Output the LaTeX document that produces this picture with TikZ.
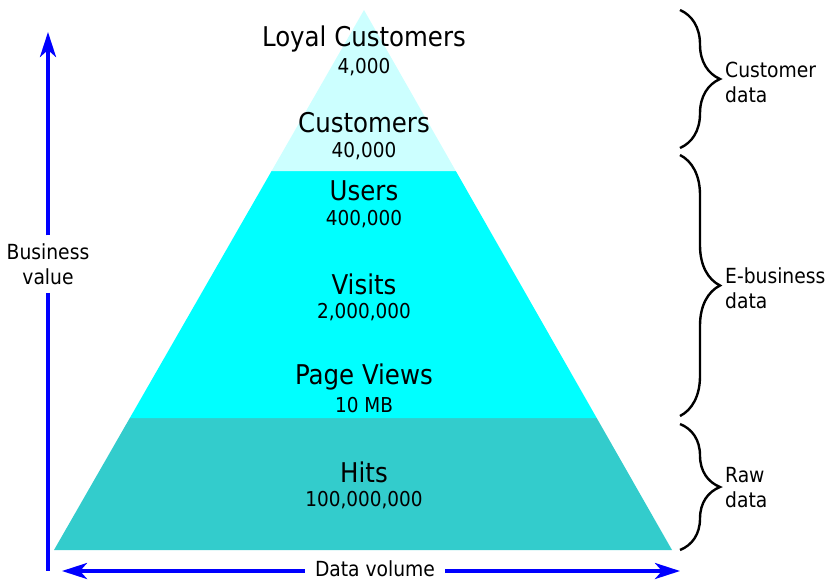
\documentclass[tikz,border=0pt]{standalone}
\usepackage{fontspec}
\setmainfont{DejaVu Sans Condensed}
\usetikzlibrary{positioning}
\usetikzlibrary{arrows.meta,decorations.pathreplacing}

\definecolor{palecyan}{HTML}{CCFFFF}
\definecolor{brightcyan}{HTML}{00FFFF}
\definecolor{darkcyan}{HTML}{33CCCC}

\tikzset{
  tier/.style={font=\fontsize{27.2}{29}\selectfont, inner sep=0pt},
  count/.style={font=\fontsize{20.5}{22}\selectfont, inner sep=0pt},
  label/.style={font=\fontsize{20.8}{25}\selectfont},
  side/.style={label, align=left, anchor=west, inner sep=0pt},
  axis/.style={blue, line width=3.8pt},
  axistip/.style={-{Stealth[length=25pt,width=16pt,inset=7pt]}},
  curly/.style={decorate, decoration={brace,amplitude=40pt,aspect=0.5}, line width=2.4pt},
}

\begin{document}
\begin{tikzpicture}[x=1pt,y=-1pt]
\useasboundingbox (0,0) rectangle (827,581);

% pyramid bands
\fill[darkcyan] (54,550) -- (129.8,418) -- (596.7,418) -- (672,550) -- cycle;
\fill[brightcyan] (129.8,418) -- (271.6,171) -- (455.8,171) -- (596.7,418) -- cycle;
\fill[palecyan] (271.6,171) -- (364,10) -- (455.8,171) -- cycle;

% tier labels
\foreach \name/\tier/\num/\y in {loyal/Loyal Customers/{4,000}/39,
    cust/Customers/{40,000}/123, users/Users/{400,000}/191,
    visits/Visits/{2,000,000}/284, views/Page Views/10 MB/377,
    hits/Hits/{100,000,000}/472}
{
  \node[tier] (\name) at (364,\y) {\tier};
  \node[count] (\name-num) at (364,\y+28.5) {\num};
}

% axes
\node[label, align=center, inner xsep=2pt, inner ysep=8pt] (value) at (48,264) {Business\\value};
\coordinate (vtop) at (48,32);
\coordinate (vbot) at (48,571);
\draw[axis,axistip] (value.north) -- (vtop);
\draw[axis] (value.south) -- (vbot);

\node[label, inner xsep=10pt, inner ysep=0pt] (volume) at (375,569) {Data volume};
\coordinate (hleft) at (62,571);
\coordinate (hright) at (680,571);
\draw[axis,axistip] (volume.west |- hleft) -- (hleft);
\draw[axis,axistip] (volume.east |- hright) -- (hright);

% braces
\draw[curly] (680,10) -- (680,148);
\draw[curly] (680,155) -- (680,416);
\draw[curly] (680,424) -- (680,550);
\node[side] (custdata) at (725,82) {Customer\\data};
\node[side] (ebizdata) at (725,288) {E-business\\data};
\node[side] (rawdata) at (725,488) {Raw\\data};
\end{tikzpicture}
\end{document}
